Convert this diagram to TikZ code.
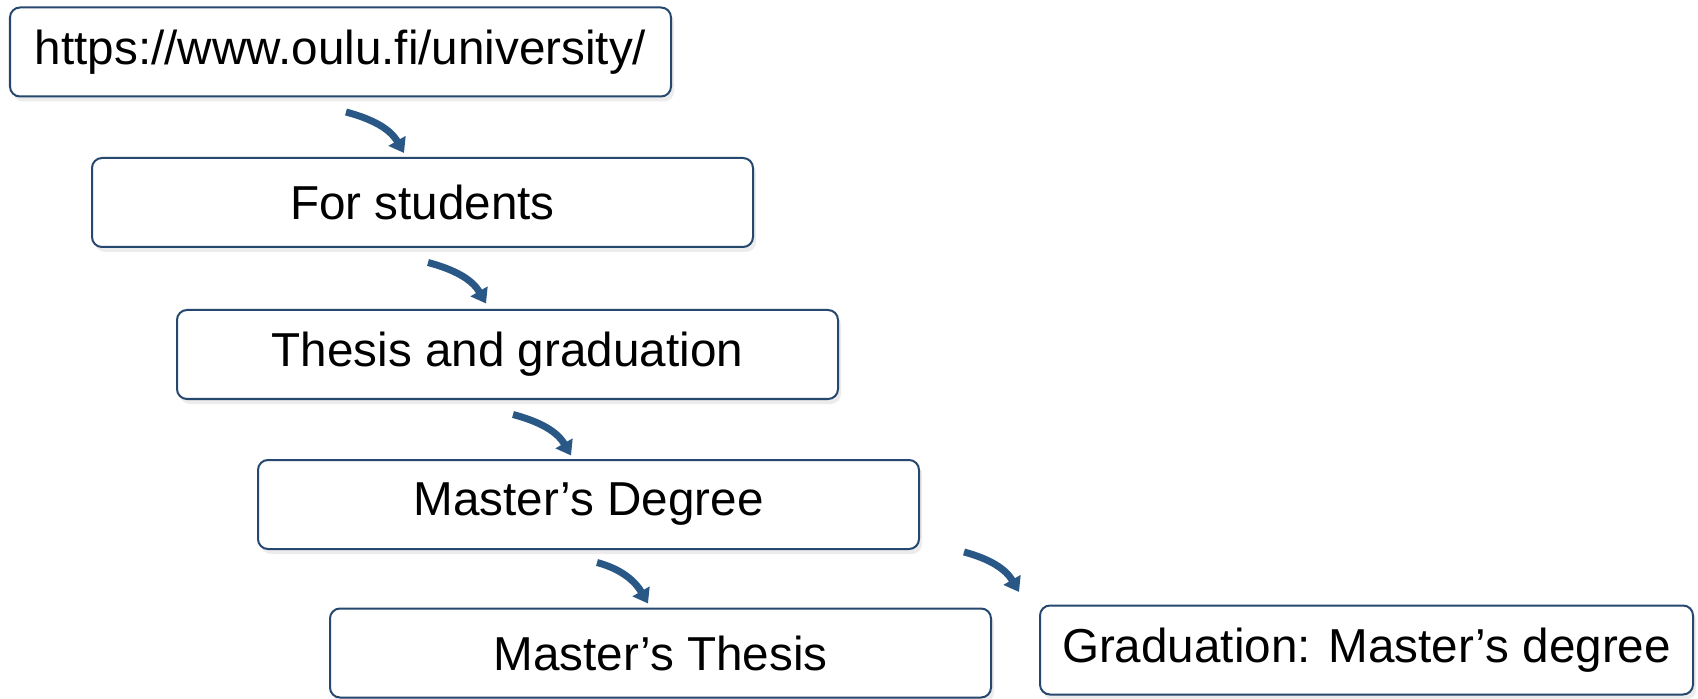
\documentclass[tikz,border=0pt]{standalone}
\usepackage{fontspec}
\setmainfont{Liberation Sans}
\usetikzlibrary{arrows.meta,shadows}
\definecolor{boxline}{RGB}{38,72,110}
\definecolor{arrowblue}{RGB}{42,88,134}
\newlength{\Bxa}
\newlength{\Bya}
\newlength{\Bxb}
\newlength{\Byb}
\newlength{\Bxc}
\newlength{\Byc}
\newlength{\Bxd}
\newlength{\Byd}
\newlength{\Bxe}
\newlength{\Bye}
\newlength{\Bxf}
\newlength{\Byf}
\setlength{\Bxa}{3.405cm}
\setlength{\Bya}{-0.520cm}
\setlength{\Bxb}{4.225cm}
\setlength{\Byb}{-2.025cm}
\setlength{\Bxc}{5.075cm}
\setlength{\Byc}{-3.545cm}
\setlength{\Bxd}{5.885cm}
\setlength{\Byd}{-5.045cm}
\setlength{\Bxe}{6.605cm}
\setlength{\Bye}{-6.530cm}
\setlength{\Bxf}{13.665cm}
\setlength{\Byf}{-6.500cm}
\tikzset{
    linkbox/.style={draw=boxline, line width=0.02cm, rounded corners=0.1cm,
        fill=white, minimum width=6.61cm, minimum height=0.89cm, inner sep=0pt,
        font=\fontsize{13.55}{16}\selectfont,
        drop shadow={opacity=0.15, shadow xshift=0.03cm, shadow yshift=-0.05cm}},
    steparrow/.style={draw=arrowblue, line width=0.07cm,
        -{Triangle[width=0.19cm,length=0.14cm]}}
}
\begin{document}
\begin{tikzpicture}

    \useasboundingbox (0,0) rectangle (16.98,-6.99);

    \node[linkbox] (pa) at (\Bxa,\Bya) {https://www.oulu.fi/university/};
    \node[linkbox] (pb) at (\Bxb,\Byb) {For students};
    \node[linkbox] (pc) at (\Bxc,\Byc) {Thesis and graduation};
    \node[linkbox] (pd) at (\Bxd,\Byd) {Master’s Degree};
    \node[linkbox] (pe) at (\Bxe,\Bye) {Master’s Thesis};
    \node[linkbox, minimum width=6.53cm] (pf) at (\Bxf,\Byf) {Graduation: Master’s degree};

    \coordinate (ab0) at ([shift={(3.37,-0.145)}]pa.south west);
    \coordinate (ab1) at ([shift={(3.95,-0.555)}]pa.south west);
    \coordinate (bc0) at ([shift={(3.37,-0.145)}]pb.south west);
    \coordinate (bc1) at ([shift={(3.95,-0.555)}]pb.south west);
    \coordinate (cd0) at ([shift={(3.37,-0.145)}]pc.south west);
    \coordinate (cd1) at ([shift={(3.95,-0.555)}]pc.south west);
    \coordinate (de0) at ([shift={(3.40,-0.125)}]pd.south west);
    \coordinate (de1) at ([shift={(3.91,-0.535)}]pd.south west);
    \coordinate (df0) at ([shift={(0.44,-0.02)}]pd.south east);
    \coordinate (df1) at ([shift={(0.99,-0.42)}]pd.south east);

    \draw[steparrow] (ab0) to[out=-15, in=120] (ab1);
    \draw[steparrow] (bc0) to[out=-15, in=120] (bc1);
    \draw[steparrow] (cd0) to[out=-15, in=120] (cd1);
    \draw[steparrow] (de0) to[out=-15, in=120] (de1);
    \draw[steparrow] (df0) to[out=-15, in=120] (df1);

\end{tikzpicture}
\end{document}
